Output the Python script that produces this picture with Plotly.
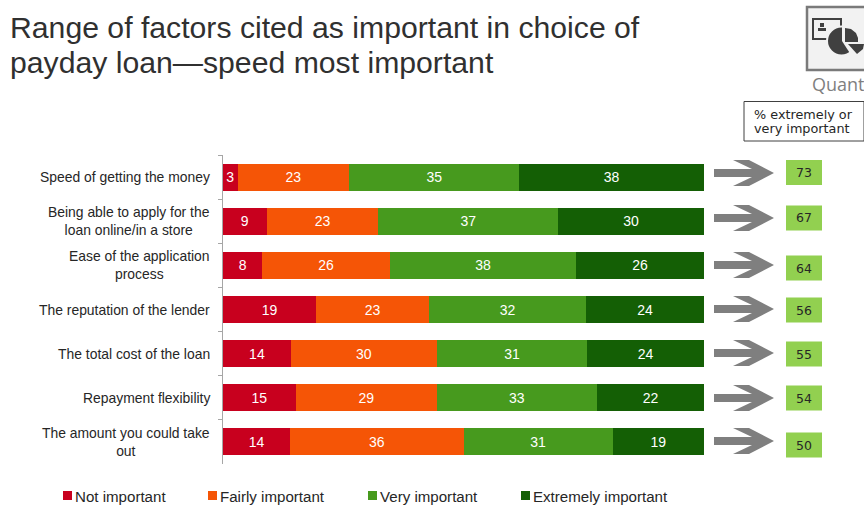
import plotly.graph_objects as go

W, H = 864, 505

factors = [
    "Speed of getting the money",
    "Being able to apply for the<br>loan online/in a store",
    "Ease of the application<br>process",
    "The reputation of the lender",
    "The total cost of the loan",
    "Repayment flexibility",
    "The amount you could take<br>out",
]
not_important = [3, 9, 8, 19, 14, 15, 14]
fairly_important = [23, 23, 26, 23, 30, 29, 36]
very_important = [35, 37, 38, 32, 31, 33, 31]
extremely_important = [38, 30, 26, 24, 24, 22, 19]
top_two_box = [73, 67, 64, 56, 55, 54, 50]

series_names = ["Not important", "Fairly important", "Very important", "Extremely important"]
series_values = [not_important, fairly_important, very_important, extremely_important]
series_colors = ["#C8001E", "#F55506", "#479A1E", "#145F05"]

SANS = "Liberation Sans, Arial, sans-serif"
WIDE = "DejaVu Sans, Verdana, sans-serif"
INK = "#262626"
BADGE_BG = "#F2F2F2"
BADGE_INK = "#404040"


def px(x):
    return x / W


def py(y):
    return 1 - y / H


def poly(points):
    return "M" + " L".join(f"{px(x):.5f},{py(y):.5f}" for x, y in points) + " Z"


def paper_rect(x0, y0, x1, y1, **style):
    return dict(type="rect", xref="paper", yref="paper", x0=px(x0), x1=px(x1),
                y0=py(y1), y1=py(y0), **style)


def paper_poly(points, color):
    return dict(type="path", xref="paper", yref="paper", fillcolor=color,
                line=dict(width=0), path=poly(points))


def paper_text(x, y, text, size, color=INK, family=SANS, xanchor="left", align="left"):
    return dict(xref="paper", yref="paper", x=px(x), y=py(y), text=text, showarrow=False,
                xanchor=xanchor, yanchor="middle", align=align,
                font=dict(family=family, size=size, color=color))


fig = go.Figure()
for name, values, color in zip(series_names, series_values, series_colors):
    fig.add_trace(go.Bar(
        y=factors, x=values, name=name, orientation="h",
        marker=dict(color=color, line=dict(width=0)),
        text=[str(v) for v in values], textposition="inside", insidetextanchor="middle",
        textangle=0, constraintext="none",
        textfont=dict(family=SANS, size=14, color="white"),
        hoverinfo="skip",
    ))

shapes = []
annotations = []

# Category labels: each block is right-aligned to the axis, its lines centred.
for factor in factors:
    annotations.append(dict(
        xref="paper", yref="y", x=px(212), y=factor, text=factor, showarrow=False,
        xanchor="right", yanchor="middle", align="center",
        font=dict(family=SANS, size=13.9, color=INK),
    ))

# Arrows and summary boxes down the right-hand side.
arrow_rows = [173, 218, 265, 309, 353, 398, 441]
box_rows = [172.5, 218, 268, 310, 354, 398, 445]
for ay, by, total in zip(arrow_rows, box_rows, top_two_box):
    shapes.append(paper_poly(
        [(714, ay - 4), (752, ay - 4), (733, ay - 13), (749, ay - 13), (774, ay),
         (749, ay + 13), (733, ay + 13), (752, ay + 4), (714, ay + 4)],
        "#7F7F7F",
    ))
    shapes.append(paper_rect(786, by - 12.5, 822, by + 12.5, fillcolor="#92D050", line=dict(width=0)))
    annotations.append(paper_text(804, by, str(total), 12.5, family=WIDE, xanchor="center", align="center"))

# Caption box above the summary column.
shapes.append(paper_rect(744, 101.5, 864, 141, fillcolor="white", line=dict(color="#404040", width=1)))
annotations.append(paper_text(752, 115, "% extremely or", 12.8, family=WIDE))
annotations.append(paper_text(752, 128.5, "very important", 12.8, family=WIDE))

# Quant badge: card with a person glyph, and a pie with two pulled-out slices.
shapes.append(paper_rect(807, 7, 866, 70, fillcolor=BADGE_BG, line=dict(color="#7A7A7A", width=2.5)))
shapes.append(paper_rect(813, 19, 841, 39, fillcolor="rgba(0,0,0,0)", line=dict(color=BADGE_INK, width=2)))
shapes.append(paper_rect(820, 23, 824, 27, fillcolor=BADGE_INK, line=dict(width=0)))
shapes.append(paper_rect(818, 28, 826, 31, fillcolor=BADGE_INK, line=dict(width=0)))
shapes.append(dict(type="circle", xref="paper", yref="paper", x0=px(827), x1=px(856), y0=py(55.5), y1=py(26.5),
                   fillcolor=BADGE_INK, line=dict(color=BADGE_BG, width=2)))
shapes.append(paper_poly([(842, 41), (842, 24), (866, 24), (866, 62), (853, 58)], BADGE_BG))
shapes.append(paper_poly([(845, 28), (851, 29), (856, 33), (858, 38), (858, 42), (845, 42)], BADGE_INK))
shapes.append(paper_poly([(848, 44), (864, 44), (863, 49), (857, 54)], BADGE_INK))
annotations.append(paper_text(809.5, 84, "Quant", 18, color="#7F7F7F", family="Open Sans, sans-serif"))

# Title.
annotations.append(paper_text(8, 27, "Range of factors cited as important in choice of", 30.2, color="#303030"))
annotations.append(paper_text(8, 62.5, "payday loan—speed most important", 30.2, color="#303030"))

# Key along the bottom.
key_x = [63, 208, 368, 521]
for x, name, color in zip(key_x, series_names, series_colors):
    shapes.append(paper_rect(x, 491, x + 9, 500, fillcolor=color, line=dict(width=0)))
    annotations.append(paper_text(x + 9.5, 496, name, 15.1))

fig.update_layout(
    width=W, height=H, autosize=False,
    margin=dict(l=0, r=0, t=0, b=0),
    paper_bgcolor="white", plot_bgcolor="white",
    barmode="stack", barnorm="percent", bargap=0.39,
    showlegend=False,
    xaxis=dict(domain=[px(223), px(704)], range=[0, 100], visible=False, fixedrange=True),
    yaxis=dict(
        domain=[py(464), py(155)], autorange="reversed", type="category",
        showticklabels=False, showgrid=False, zeroline=False, fixedrange=True,
        showline=True, linecolor="#A6A6A6", linewidth=1,
        ticks="outside", tickson="boundaries", ticklen=4, tickcolor="#A6A6A6",
    ),
    shapes=shapes,
    annotations=annotations,
)

fig.write_html("out.html", config={"displayModeBar": False})
